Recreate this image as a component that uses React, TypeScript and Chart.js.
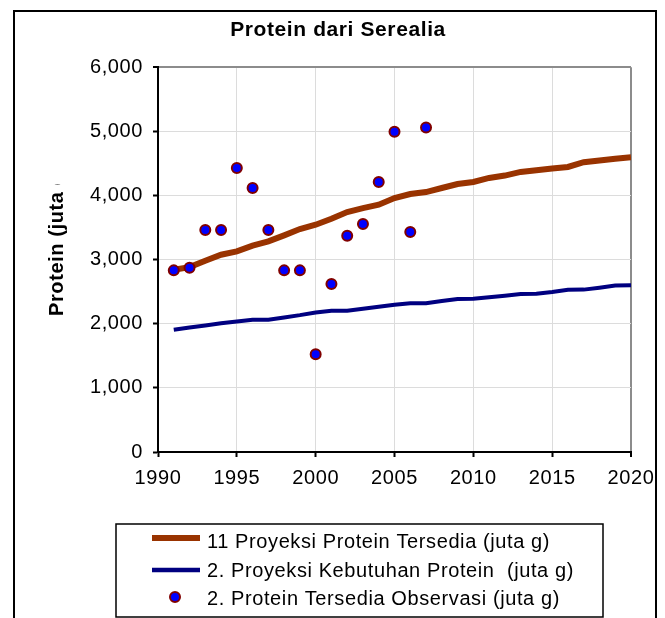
import React, { useEffect, useRef } from 'react';
import { Chart, registerables } from 'chart.js';

Chart.register(...registerables);

const FONT = '"Liberation Sans", Arial, Helvetica, sans-serif';
const SPACING = '0.6px';

const titleText = 'Protein dari Serealia';
const yAxisTitle = 'Protein (juta g)';

const xTickValues = [1990, 1995, 2000, 2005, 2010, 2015, 2020];
const yTickValues = [0, 1000, 2000, 3000, 4000, 5000, 6000];

const projYears = [
  1991, 1992, 1993, 1994, 1995, 1996, 1997, 1998, 1999, 2000,
  2001, 2002, 2003, 2004, 2005, 2006, 2007, 2008, 2009, 2010,
  2011, 2012, 2013, 2014, 2015, 2016, 2017, 2018, 2019, 2020,
];
const projAvailable = [
  2842, 2883, 2983, 3076, 3128, 3217, 3284, 3378, 3476, 3544,
  3638, 3741, 3803, 3856, 3959, 4022, 4053, 4116, 4179, 4210,
  4273, 4310, 4367, 4393, 4420, 4445, 4519, 4545, 4571, 4597,
];
const projNeed = [
  1906, 1942, 1973, 2009, 2036, 2062, 2062, 2098, 2134, 2176,
  2203, 2203, 2234, 2265, 2296, 2321, 2321, 2355, 2385, 2388,
  2412, 2437, 2465, 2468, 2495, 2530, 2532, 2562, 2597, 2600,
];
const obsYears = [
  1991, 1992, 1993, 1994, 1995, 1996, 1997, 1998, 1999, 2000,
  2001, 2002, 2003, 2004, 2005, 2006, 2007,
];
const obsAvailable = [
  2832, 2874, 3460, 3460, 4427, 4115, 3460, 2832, 2832, 1526,
  2618, 3373, 3554, 4209, 4995, 3429, 5058,
];

const legendLabels = [
  '11 Proyeksi Protein Tersedia (juta g)',
  '2. Proyeksi Kebutuhan Protein  (juta g)',
  '2. Protein Tersedia Observasi (juta g)',
];

const ORANGE = '#993300';
const NAVY = '#000080';
const DOT_FILL = '#0000ff';
const DOT_EDGE = '#800000';

const decorPlugin = {
  id: 'decor',
  beforeLayout(chart: any) {
    chart.ctx.letterSpacing = SPACING;
  },
  beforeDraw(chart: any) {
    const ctx = chart.ctx;
    ctx.save();
    ctx.fillStyle = '#ffffff';
    ctx.fillRect(0, 0, chart.width, chart.height);
    ctx.restore();
    ctx.letterSpacing = SPACING;
  },
  afterDraw(chart: any) {
    const ctx = chart.ctx;
    // outer frame
    ctx.save();
    ctx.strokeStyle = '#000';
    ctx.lineWidth = 2;
    ctx.strokeRect(14, 11, 642, 700);
    ctx.restore();

    // y axis title (clipped like the original)
    ctx.save();
    ctx.beginPath();
    ctx.rect(30, 184, 60, 160);
    ctx.clip();
    ctx.translate(57, 316);
    ctx.rotate(-Math.PI / 2);
    ctx.font = `bold 20px ${FONT}`;
    ctx.fillStyle = '#000';
    ctx.textAlign = 'left';
    ctx.textBaseline = 'middle';
    ctx.letterSpacing = SPACING;
    ctx.fillText(yAxisTitle, 0, 0);
    ctx.restore();

    // legend box
    ctx.save();
    ctx.strokeStyle = '#000';
    ctx.lineWidth = 1.5;
    ctx.strokeRect(116, 524, 487, 93);
    const rows = [538, 570, 597];
    const baselines = [548, 577, 605];
    ctx.lineCap = 'butt';
    ctx.strokeStyle = ORANGE;
    ctx.lineWidth = 6;
    ctx.beginPath();
    ctx.moveTo(152, rows[0]);
    ctx.lineTo(200, rows[0]);
    ctx.stroke();
    ctx.strokeStyle = NAVY;
    ctx.lineWidth = 4.5;
    ctx.beginPath();
    ctx.moveTo(152, rows[1]);
    ctx.lineTo(200, rows[1]);
    ctx.stroke();
    ctx.fillStyle = DOT_FILL;
    ctx.strokeStyle = DOT_EDGE;
    ctx.lineWidth = 2;
    ctx.beginPath();
    ctx.arc(175, rows[2], 5, 0, Math.PI * 2);
    ctx.fill();
    ctx.stroke();
    ctx.fillStyle = '#000';
    ctx.font = `20px ${FONT}`;
    ctx.textAlign = 'left';
    ctx.textBaseline = 'alphabetic';
    ctx.letterSpacing = SPACING;
    legendLabels.forEach((t, i) => ctx.fillText(t, 207, baselines[i]));
    ctx.restore();
  },
};

export default function App() {
  const ref = useRef<HTMLCanvasElement | null>(null);

  useEffect(() => {
    if (!ref.current) return;
    const chart = new Chart(ref.current, {
      type: 'line',
      data: {
        datasets: [
          {
            label: legendLabels[2],
            data: obsYears.map((x, i) => ({ x, y: obsAvailable[i] })),
            showLine: false,
            pointRadius: 5,
            pointBorderWidth: 2,
            pointBackgroundColor: DOT_FILL,
            pointBorderColor: DOT_EDGE,
            borderColor: DOT_EDGE,
            backgroundColor: DOT_FILL,
          },
          {
            label: legendLabels[1],
            data: projYears.map((x, i) => ({ x, y: projNeed[i] })),
            borderColor: NAVY,
            borderWidth: 4,
            pointRadius: 0,
            tension: 0,
            fill: false,
          },
          {
            label: legendLabels[0],
            data: projYears.map((x, i) => ({ x, y: projAvailable[i] })),
            borderColor: ORANGE,
            borderWidth: 6,
            pointRadius: 0,
            tension: 0,
            fill: false,
          },
        ],
      },
      options: {
        responsive: false,
        animation: false,
        devicePixelRatio: 1,
        layout: { padding: { left: 45, right: 34, top: 0, bottom: 0 } },
        plugins: {
          legend: { display: false },
          tooltip: { enabled: false },
          title: {
            display: true,
            text: titleText,
            color: '#000',
            font: { family: FONT, size: 21, weight: 'bold', lineHeight: 1.2 },
            padding: { top: 18, bottom: 24 },
          },
        },
        scales: {
          x: {
            type: 'linear',
            min: xTickValues[0],
            max: xTickValues[xTickValues.length - 1],
            afterBuildTicks: (scale: any) => {
              scale.ticks = xTickValues.map((v) => ({ value: v }));
            },
            afterFit: (scale: any) => {
              scale.height = 166;
            },
            ticks: {
              color: '#000',
              font: { family: FONT, size: 20 },
              padding: 9,
              maxRotation: 0,
              autoSkip: false,
              callback: (v: any) => String(v),
            },
            grid: {
              color: (c: any) => (c.tick && c.tick.value === 2020 ? '#8c8c8c' : '#dcdcdc'),
              lineWidth: (c: any) => (c.tick && c.tick.value === 2020 ? 2 : 1),
              tickColor: '#000',
              tickLength: 5,
              tickWidth: 2,
            },
            border: { color: '#000', width: 2 },
          },
          y: {
            type: 'linear',
            min: yTickValues[0],
            max: yTickValues[yTickValues.length - 1],
            afterBuildTicks: (scale: any) => {
              scale.ticks = yTickValues.map((v) => ({ value: v }));
            },
            afterFit: (scale: any) => {
              scale.width = 113;
            },
            ticks: {
              color: '#000',
              font: { family: FONT, size: 20 },
              padding: 10,
              callback: (v: any) => Number(v).toLocaleString('en-US'),
            },
            grid: {
              color: (c: any) => (c.tick && c.tick.value === 6000 ? '#8c8c8c' : '#dcdcdc'),
              lineWidth: (c: any) => (c.tick && c.tick.value === 6000 ? 2 : 1),
              tickColor: '#000',
              tickLength: 5,
              tickWidth: 2,
            },
            border: { color: '#000', width: 2 },
          },
        },
      } as any,
      plugins: [decorPlugin],
    });
    return () => chart.destroy();
  }, []);

  return (
    <div style={{ position: 'fixed', left: 0, top: 0, width: 665, height: 618, background: '#fff' }}>
      <canvas ref={ref} width={665} height={618} style={{ display: 'block' }} />
    </div>
  );
}
